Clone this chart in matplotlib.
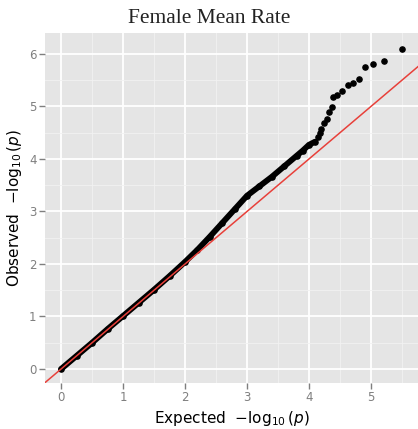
import matplotlib
matplotlib.use('Agg')
import matplotlib.pyplot as plt
import numpy as np

# dense band (drawn as a thick run of points)
exp_band = [0.0, 0.25, 0.5, 0.75, 1.0, 1.25, 1.5, 1.75, 2.0, 2.2, 2.4, 2.6,
            2.8, 3.0, 3.2, 3.4, 3.6, 3.8, 3.9, 4.0, 4.1]
obs_band = [0.0, 0.25, 0.5, 0.76, 1.01, 1.26, 1.51, 1.77, 2.04, 2.27, 2.52, 2.78,
            3.04, 3.3, 3.48, 3.66, 3.86, 4.06, 4.16, 4.27, 4.33]

# sparse tail points
exp_tail = [4.15, 4.18, 4.2, 4.25, 4.29, 4.32, 4.37, 4.39, 4.45, 4.53, 4.63,
            4.71, 4.8, 4.9, 5.03, 5.21, 5.5]
obs_tail = [4.42, 4.5, 4.58, 4.68, 4.76, 4.9, 4.99, 5.18, 5.22, 5.3, 5.41,
            5.45, 5.52, 5.75, 5.81, 5.87, 6.1]

ticks = [0, 1, 2, 3, 4, 5, 6]

fig = plt.figure(figsize=(4.18, 4.29), dpi=100)
ax = fig.add_axes([45/418, 46/429, 373/418, 350/429])

ax.set_facecolor('#e5e5e5')
for s in ax.spines.values():
    s.set_visible(False)

ax.set_xlim(-0.26, 5.76)
ax.set_ylim(-0.267, 6.4)

ax.set_xticks(ticks[:6])
ax.set_yticks(ticks)
ax.set_xticks(np.arange(0.5, 5.6, 1.0), minor=True)
ax.set_yticks(np.arange(0.5, 6.4, 1.0), minor=True)
ax.grid(True, which='major', color='white', linewidth=1.3)
ax.grid(True, which='minor', color='#f2f2f2', linewidth=0.6)
ax.set_axisbelow(True)
ax.tick_params(which='major', length=4, width=1, color='#7f7f7f',
               labelcolor='#7f7f7f', labelsize=8.5, pad=2)
ax.tick_params(which='minor', length=0)

ax.plot(exp_band, obs_band, '-', color='black', linewidth=4.2,
        solid_capstyle='round', zorder=3)
ax.scatter(exp_band, obs_band, s=14, color='black', zorder=3)
ax.scatter(exp_tail, obs_tail, s=14, color='black', zorder=3)

ax.axline((0, 0), slope=1, color='#e8403a', linewidth=1.1, zorder=4)

ax.set_xlabel(r'Expected  $-\log_{10}(p)$', fontsize=11, labelpad=3)
ax.set_ylabel(r'Observed  $-\log_{10}(p)$', fontsize=11, labelpad=4)

fig.text(0.5, 0.958, 'Female Mean Rate', ha='center', va='center',
         fontsize=15.5, family='Liberation Serif', color='#222222')

fig.savefig('out.png', dpi=100)
